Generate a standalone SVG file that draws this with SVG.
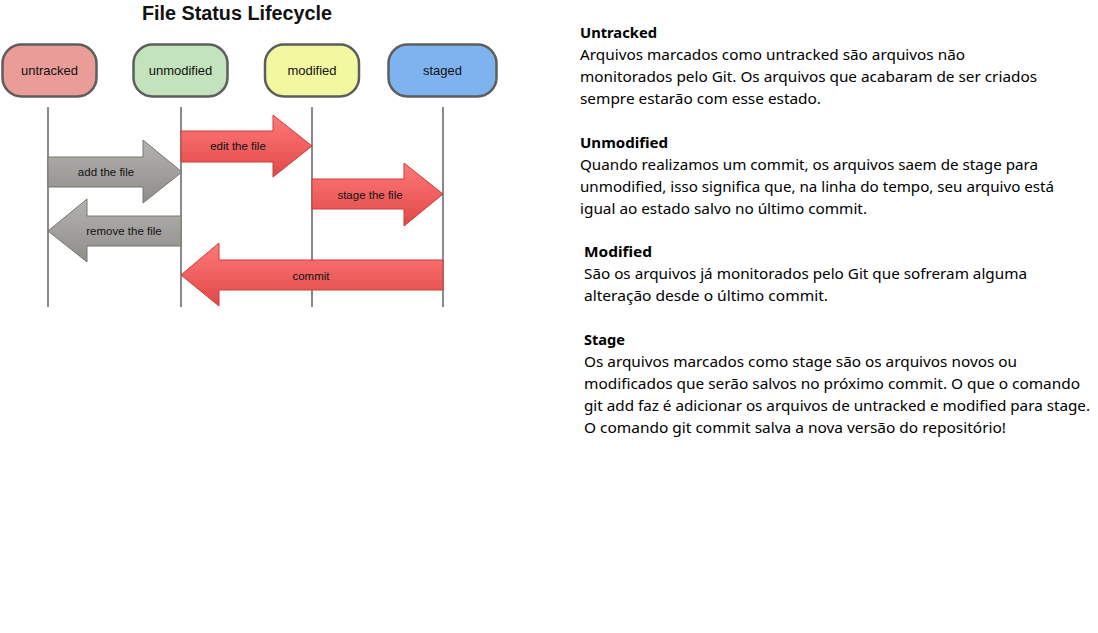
<svg xmlns="http://www.w3.org/2000/svg" width="1098" height="633" viewBox="0 0 1098 633">
<defs>
<linearGradient id="gRed" x1="0" y1="0" x2="0" y2="1">
<stop offset="0" stop-color="#ff7a78"/>
<stop offset="1" stop-color="#e04848"/>
</linearGradient>
<linearGradient id="gGray" x1="0" y1="0" x2="0" y2="1">
<stop offset="0" stop-color="#b4b3b0"/>
<stop offset="1" stop-color="#8e8d8a"/>
</linearGradient>
<style>
.node rect{stroke:#5e5e5e;stroke-width:2.5}
.nl{font-family:"Liberation Sans",Arial,sans-serif;font-size:13px;fill:#111;text-anchor:middle}
.al{font-family:"Liberation Sans",Arial,sans-serif;font-size:11.5px;fill:#111;text-anchor:middle}
.red{fill:url(#gRed);stroke:#cc3a3a;stroke-width:1}
.gray{fill:url(#gGray);stroke:#77766f;stroke-width:1}
.life{stroke:#8a8a8a;stroke-width:2}
.h{font-family:"Noto Sans","Open Sans",sans-serif;font-size:15px;font-weight:bold;fill:#000}
.t{font-family:"Noto Sans","Open Sans",sans-serif;font-size:15px;fill:#000}
</style>
</defs>
<rect width="1098" height="633" fill="#fff"/>
<text x="142" y="20" font-family="Liberation Sans,Arial,sans-serif" font-size="19.5" font-weight="bold" fill="#111" textLength="190" lengthAdjust="spacingAndGlyphs">File Status Lifecycle</text>

<g id="lifelines">
<line class="life" x1="48" y1="107" x2="48" y2="307"/>
<line class="life" x1="181" y1="107" x2="181" y2="307"/>
<line class="life" x1="312" y1="107" x2="312" y2="307"/>
<line class="life" x1="443" y1="107" x2="443" y2="307"/>
</g>

<g id="untracked" class="node"><rect x="2.5" y="44.5" width="94" height="52" rx="19" fill="#ea9c98"/><text class="nl" x="49.5" y="75">untracked</text></g>
<g id="unmodified" class="node"><rect x="133.5" y="44.5" width="94" height="52" rx="19" fill="#c2e3bb"/><text class="nl" x="180.5" y="75">unmodified</text></g>
<g id="modified" class="node"><rect x="265" y="44.5" width="94" height="52" rx="19" fill="#f1f8a0"/><text class="nl" x="312" y="75">modified</text></g>
<g id="staged" class="node"><rect x="388.5" y="44.5" width="108" height="52" rx="19" fill="#7fb3ef"/><text class="nl" x="442.5" y="75">staged</text></g>

<g id="connectors">
<g id="add"><path class="gray" d="M48,157 H143 V140 L182,172 L143,203 V187 H48 Z"/><text class="al" x="106" y="176">add the file</text></g>
<g id="edit"><path class="red" d="M181,131 H273 V115 L312,146 L273,177 V162 H181 Z"/><text class="al" x="238" y="150">edit the file</text></g>
<g id="stage"><path class="red" d="M312,179 H404 V163 L443,194 L404,226 V209 H312 Z"/><text class="al" x="370" y="199">stage the file</text></g>
<g id="remove"><path class="gray" d="M181,216 H87 V199 L48,231 L87,262 V246 H181 Z"/><text class="al" x="124" y="235">remove the file</text></g>
<g id="commit"><path class="red" d="M443,260 H219 V243 L181,275 L219,306 V290 H443 Z"/><text class="al" x="311" y="280">commit</text></g>
</g>

<g id="notes">
<text class="h" x="580" y="38" textLength="77" lengthAdjust="spacingAndGlyphs">Untracked</text>
<text class="t" x="580" y="60" textLength="385" lengthAdjust="spacingAndGlyphs">Arquivos marcados como untracked são arquivos não</text>
<text class="t" x="580" y="82" textLength="457" lengthAdjust="spacingAndGlyphs">monitorados pelo Git. Os arquivos que acabaram de ser criados</text>
<text class="t" x="580" y="104" textLength="241" lengthAdjust="spacingAndGlyphs">sempre estarão com esse estado.</text>

<text class="h" x="580" y="148" textLength="88" lengthAdjust="spacingAndGlyphs">Unmodified</text>
<text class="t" x="580" y="170" textLength="458" lengthAdjust="spacingAndGlyphs">Quando realizamos um commit, os arquivos saem de stage para</text>
<text class="t" x="580" y="192" textLength="474" lengthAdjust="spacingAndGlyphs">unmodified, isso significa que, na linha do tempo, seu arquivo está</text>
<text class="t" x="580" y="214" textLength="287" lengthAdjust="spacingAndGlyphs">igual ao estado salvo no último commit.</text>

<text class="h" x="584" y="257" textLength="68" lengthAdjust="spacingAndGlyphs">Modified</text>
<text class="t" x="584" y="279" textLength="443" lengthAdjust="spacingAndGlyphs">São os arquivos já monitorados pelo Git que sofreram alguma</text>
<text class="t" x="584" y="301" textLength="244" lengthAdjust="spacingAndGlyphs">alteração desde o último commit.</text>

<text class="h" x="584" y="345" textLength="41" lengthAdjust="spacingAndGlyphs">Stage</text>
<text class="t" x="584" y="367" textLength="433" lengthAdjust="spacingAndGlyphs">Os arquivos marcados como stage são os arquivos novos ou</text>
<text class="t" x="584" y="389" textLength="496" lengthAdjust="spacingAndGlyphs">modificados que serão salvos no próximo commit. O que o comando</text>
<text class="t" x="584" y="411" textLength="506" lengthAdjust="spacingAndGlyphs">git add faz é adicionar os arquivos de untracked e modified para stage.</text>
<text class="t" x="584" y="433" textLength="422" lengthAdjust="spacingAndGlyphs">O comando git commit salva a nova versão do repositório!</text>
</g>
</svg>
